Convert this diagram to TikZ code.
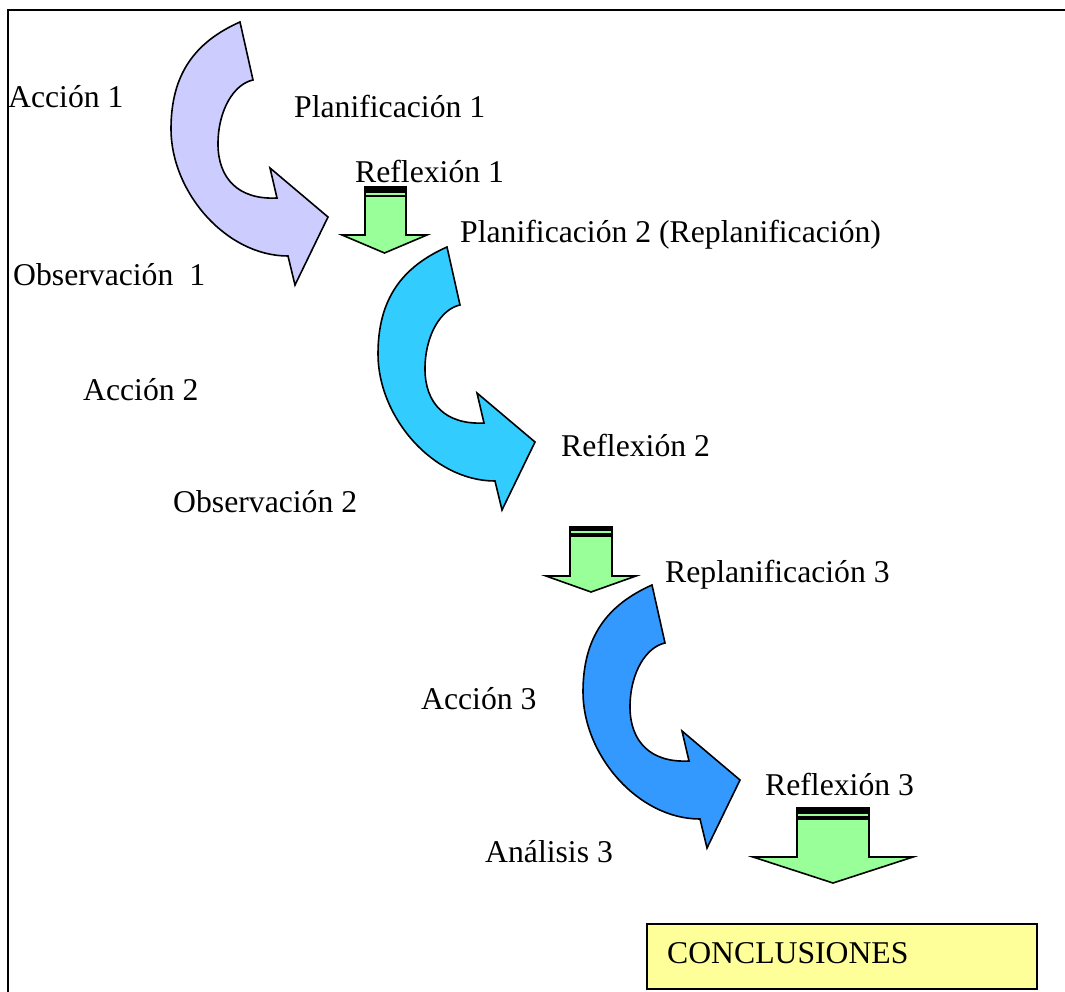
\documentclass[tikz,border=0pt]{standalone}
\usepackage{fontspec}
\setmainfont{Liberation Serif}
\definecolor{lav}{HTML}{CCCCFF}
\definecolor{sky}{HTML}{33CCFF}
\definecolor{azul}{HTML}{3399FF}
\definecolor{verde}{HTML}{99FF99}
\definecolor{amarillo}{HTML}{FFFF99}
\newcommand\cyclearrow[2]{%
  \begin{scope}[shift={#1}]
    \filldraw[shapeline, fill=#2] (0,0)
      .. controls (-45,20) and (-69,52) .. (-69,107)
      .. controls (-69,170) and (-14,234) .. (48,234)
      -- (55,263) -- (88,195) -- (30,146) -- (37,176)
      .. controls (-2,178) and (-22,156) .. (-22,122)
      .. controls (-22,88) and (-6,62) .. (13,58) -- cycle;
  \end{scope}}
% #1 L, #2 R, #3 top, #4 shaft bottom, #5 head left, #6 head right, #7 tip y, #8 bar bottom, #9 green strip top
\newcommand\downblock[9]{%
  \filldraw[shapeline, fill=verde] (#1,#3) -- (#2,#3) -- (#2,#4) -- (#6,#4)
    -- ({(#5+#6)/2},#7) -- (#5,#4) -- (#1,#4) -- cycle;
  \fill[black] (#1-0.7,#3-0.7) rectangle (#2+0.7,#8);
  \fill[verde] (#1+1.4,#9) rectangle (#2-1.4,#9+2.2);}
\tikzset{
  shapeline/.style={draw=black, line width=1.6pt, line join=miter},
  lbl/.style={anchor=base west, inner sep=0pt, font=\fontsize{31.7}{38}\selectfont},
}
\begin{document}
\begin{tikzpicture}[x=1pt, y=-1pt]
\useasboundingbox (0,0) rectangle (1065,992);
% frame
\draw[line width=2pt] (1065,10) -- (8,10) -- (8,992);
% green down arrows
\downblock{365}{406}{187}{235}{342}{427}{253}{197}{193}
\downblock{570}{612}{527}{576}{546}{636}{592}{537}{531}
\downblock{797}{869}{808}{857}{753}{913}{883}{820}{813.5}
% curved arrows
\cyclearrow{(240,22)}{lav}
\cyclearrow{(447,247)}{sky}
\cyclearrow{(652,585)}{azul}
% conclusions box
\node[shapeline, fill=amarillo, minimum width=390pt, minimum height=65pt, inner sep=0pt, anchor=north west] (concl) at (646,923) {};
% labels
\node[lbl] (acc1) at (8,108) {Acción 1};
\node[lbl] (plan1) at (294,118) {Planificación 1};
\node[lbl] (ref1) at (355,183) {Reflexión 1};
\node[lbl] (plan2) at (460,243) {Planificación 2 (Replanificación)};
\node[lbl] (obs1) at (13,286) {Observación \ 1};
\node[lbl] (acc2) at (83,400) {Acción 2};
\node[lbl] (ref2) at (561,456) {Reflexión 2};
\node[lbl] (obs2) at (173,512) {Observación 2};
\node[lbl] (replan3) at (665,582) {Replanificación 3};
\node[lbl] (acc3) at (421,709) {Acción 3};
\node[lbl] (ref3) at (765,795) {Reflexión 3};
\node[lbl] (anal3) at (485,862) {Análisis 3};
\node[lbl] (conclt) at (667,963) {CONCLUSIONES};
\end{tikzpicture}
\end{document}
